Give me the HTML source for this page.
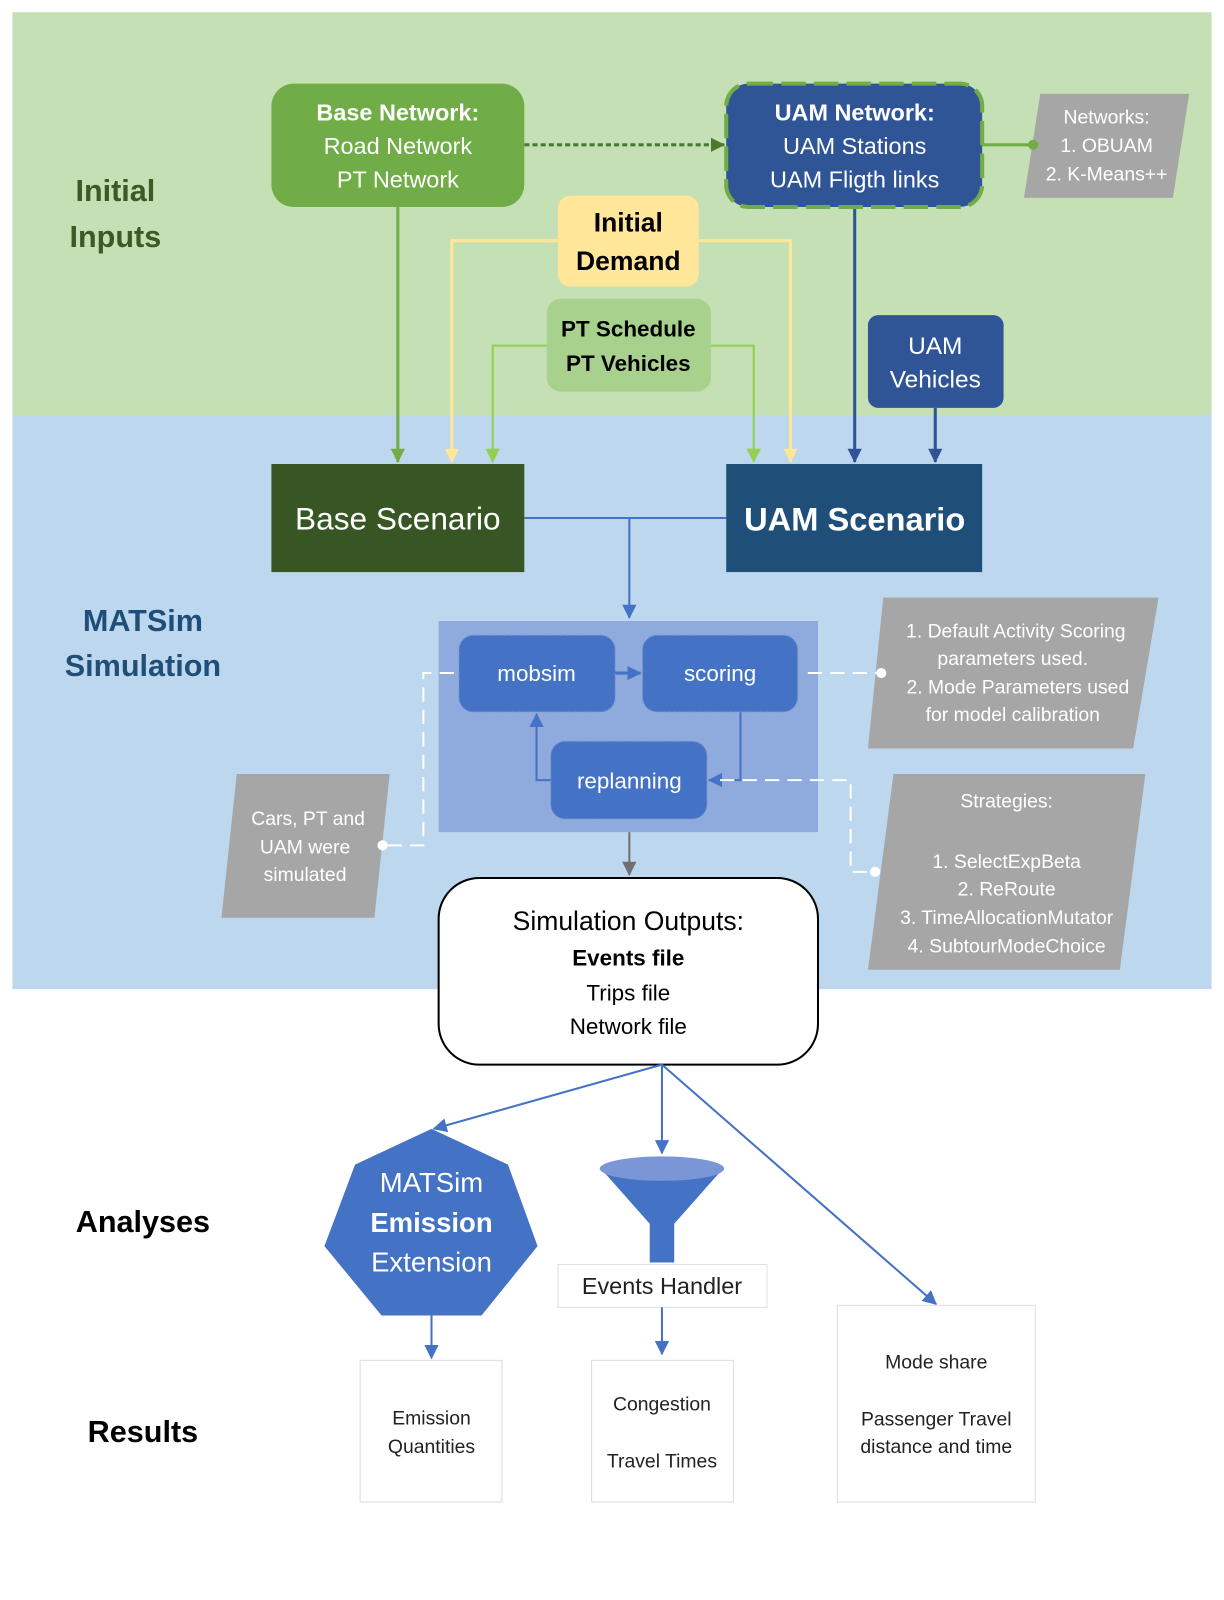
<!DOCTYPE html>
<html><head><meta charset="utf-8"><style>
html,body{margin:0;padding:0;background:#fff;width:1224px;height:1600px;overflow:hidden}
svg{display:block}
text{font-family:"Liberation Sans",sans-serif;text-anchor:middle}
</style></head><body>
<svg width="1224" height="1600" viewBox="0 0 1200 1569" xmlns="http://www.w3.org/2000/svg">
<defs>
<marker id="adg" markerWidth="14" markerHeight="14" refX="13" refY="7" orient="auto" markerUnits="userSpaceOnUse"><path d="M0,0 L14,7 L0,14z" fill="#4a7a2e"/></marker>
<marker id="ag2" markerWidth="14" markerHeight="14" refX="13" refY="7" orient="auto" markerUnits="userSpaceOnUse"><path d="M0,0 L14,7 L0,14z" fill="#70ad47"/></marker>
<marker id="ay" markerWidth="14" markerHeight="14" refX="13" refY="7" orient="auto" markerUnits="userSpaceOnUse"><path d="M0,0 L14,7 L0,14z" fill="#ffe699"/></marker>
<marker id="al" markerWidth="14" markerHeight="14" refX="13" refY="7" orient="auto" markerUnits="userSpaceOnUse"><path d="M0,0 L14,7 L0,14z" fill="#92d050"/></marker>
<marker id="ad" markerWidth="14" markerHeight="14" refX="13" refY="7" orient="auto" markerUnits="userSpaceOnUse"><path d="M0,0 L14,7 L0,14z" fill="#2f5597"/></marker>
<marker id="ab" markerWidth="14" markerHeight="14" refX="13" refY="7" orient="auto" markerUnits="userSpaceOnUse"><path d="M0,0 L14,7 L0,14z" fill="#4472c4"/></marker>
<marker id="agr" markerWidth="14" markerHeight="14" refX="13" refY="7" orient="auto" markerUnits="userSpaceOnUse"><path d="M0,0 L14,7 L0,14z" fill="#707070"/></marker>
</defs>
<rect x="12" y="12" width="1176" height="395" fill="#c5e0b4"/>
<rect x="12" y="407" width="1176" height="563" fill="#bdd7ee"/>

<text x="113" y="197" font-size="30" font-weight="bold" fill="#3a5a26">Initial</text>
<text x="113" y="242" font-size="30" font-weight="bold" fill="#3a5a26">Inputs</text>

<path d="M390,203 V453" stroke="#70ad47" stroke-width="3" fill="none" marker-end="url(#ag2)"/>
<path d="M547,236 H443 V453" stroke="#ffe699" stroke-width="3" fill="none" marker-end="url(#ay)"/>
<path d="M685,236 H775 V453" stroke="#ffe699" stroke-width="3" fill="none" marker-end="url(#ay)"/>
<path d="M536,339 H483 V453" stroke="#92d050" stroke-width="2" fill="none" marker-end="url(#al)"/>
<path d="M697,339 H739 V453" stroke="#92d050" stroke-width="2" fill="none" marker-end="url(#al)"/>
<path d="M838,203 V453" stroke="#2f5597" stroke-width="3" fill="none" marker-end="url(#ad)"/>
<path d="M917,400 V453" stroke="#2f5597" stroke-width="3" fill="none" marker-end="url(#ad)"/>
<path d="M514,142 H710" stroke="#4a7a2e" stroke-width="3" stroke-dasharray="5,3" fill="none" marker-end="url(#adg)"/>

<rect x="266" y="82" width="248" height="121" rx="22" fill="#70ad47"/>
<text x="390" y="118" font-size="23" font-weight="bold" fill="#fff">Base Network:</text>
<text x="390" y="151" font-size="23" fill="#fff">Road Network</text>
<text x="390" y="184" font-size="23" fill="#fff">PT Network</text>

<rect x="712" y="82" width="251" height="121" rx="22" fill="#2f5597" stroke="#70ad47" stroke-width="4" stroke-dasharray="24,8"/>
<text x="838" y="118" font-size="23" font-weight="bold" fill="#fff">UAM Network:</text>
<text x="838" y="151" font-size="23" fill="#fff">UAM Stations</text>
<text x="838" y="184" font-size="23" fill="#fff">UAM Fligth links</text>

<polygon points="1020,92 1166,92 1150,194 1004,194" fill="#a6a6a6"/>
<line x1="963" y1="142" x2="1013" y2="142" stroke="#70ad47" stroke-width="3"/>
<circle cx="1013" cy="142" r="5" fill="#70ad47"/>
<text x="1085" y="121" font-size="19" fill="#fff">Networks:</text>
<text x="1085" y="149" font-size="19" fill="#fff">1. OBUAM</text>
<text x="1085" y="177" font-size="19" fill="#fff">2. K-Means++</text>

<rect x="547" y="192" width="138" height="89" rx="12" fill="#ffe699"/>
<text x="616" y="227" font-size="26" font-weight="bold" fill="#000">Initial</text>
<text x="616" y="265" font-size="26" font-weight="bold" fill="#000">Demand</text>

<rect x="536" y="293" width="161" height="91" rx="14" fill="#a9d18e"/>
<text x="616" y="330" font-size="22" font-weight="bold" fill="#000">PT Schedule</text>
<text x="616" y="364" font-size="22" font-weight="bold" fill="#000">PT Vehicles</text>

<rect x="851" y="309" width="133" height="91" rx="10" fill="#2f5597"/>
<text x="917" y="347" font-size="24" fill="#fff">UAM</text>
<text x="917" y="380" font-size="24" fill="#fff">Vehicles</text>

<path d="M514,508 H712" stroke="#4472c4" stroke-width="2" fill="none"/>
<path d="M617,508 V606" stroke="#4472c4" stroke-width="2" fill="none" marker-end="url(#ab)"/>
<rect x="266" y="455" width="248" height="106" fill="#375623"/>
<text x="390" y="519" font-size="31" fill="#fff">Base Scenario</text>
<rect x="712" y="455" width="251" height="106" fill="#1f4e79"/>
<text x="838" y="520" font-size="32" font-weight="bold" fill="#fff">UAM Scenario</text>

<text x="140" y="619" font-size="30" font-weight="bold" fill="#1f4e79">MATSim</text>
<text x="140" y="663" font-size="30" font-weight="bold" fill="#1f4e79">Simulation</text>

<rect x="430" y="609" width="372" height="207" fill="#8faadc"/>
<path d="M540,765 H526 V700" stroke="#4472c4" stroke-width="2" fill="none" marker-end="url(#ab)"/>
<path d="M726,698 V765 H695" stroke="#4472c4" stroke-width="2" fill="none" marker-end="url(#ab)"/>
<path d="M603,660 H628" stroke="#4472c4" stroke-width="3" fill="none" marker-end="url(#ab)"/>
<rect x="450" y="623" width="153" height="75" rx="14" fill="#4472c4" stroke="#6f8fd0" stroke-dasharray="3,2"/>
<text x="526" y="668" font-size="22" fill="#fff">mobsim</text>
<rect x="630" y="623" width="152" height="75" rx="14" fill="#4472c4" stroke="#6f8fd0" stroke-dasharray="3,2"/>
<text x="706" y="668" font-size="22" fill="#fff">scoring</text>
<rect x="540" y="727" width="153" height="76" rx="14" fill="#4472c4" stroke="#6f8fd0" stroke-dasharray="3,2"/>
<text x="617" y="773" font-size="22" fill="#fff">replanning</text>

<polygon points="866,586 1136,586 1111,734 851,734" fill="#a6a6a6"/>
<text x="996" y="625" font-size="19" fill="#fff">1. Default Activity Scoring</text>
<text x="993" y="652" font-size="19" fill="#fff">parameters used.</text>
<text x="998" y="680" font-size="19" fill="#fff">2. Mode Parameters used</text>
<text x="993" y="707" font-size="19" fill="#fff">for model calibration</text>

<polygon points="876,759 1123,759 1098,951 851,951" fill="#a6a6a6"/>
<text x="987" y="792" font-size="19" fill="#fff">Strategies:</text>
<text x="987" y="851" font-size="19" fill="#fff">1. SelectExpBeta</text>
<text x="987" y="878" font-size="19" fill="#fff">2. ReRoute</text>
<text x="987" y="906" font-size="19" fill="#fff">3. TimeAllocationMutator</text>
<text x="987" y="934" font-size="19" fill="#fff">4. SubtourModeChoice</text>

<polygon points="232,759 382,759 367,900 217,900" fill="#a6a6a6"/>
<text x="302" y="809" font-size="19" fill="#fff">Cars, PT and</text>
<text x="299" y="837" font-size="19" fill="#fff">UAM were</text>
<text x="299" y="864" font-size="19" fill="#fff">simulated</text>

<!-- white dashed connectors (on top) -->
<path d="M792,660 H864" stroke="#fff" stroke-width="2" stroke-dasharray="14,8" fill="none"/>
<circle cx="864" cy="660" r="5" fill="#fff"/>
<path d="M706,765 H834 V855 H858" stroke="#fff" stroke-width="2" stroke-dasharray="14,8" fill="none"/>
<circle cx="858" cy="855" r="5" fill="#fff"/>
<path d="M445,660 H415 V829 H375" stroke="#fff" stroke-width="2" stroke-dasharray="14,8" fill="none"/>
<circle cx="375" cy="829" r="5" fill="#fff"/>

<path d="M617,816 V858" stroke="#707070" stroke-width="2" fill="none" marker-end="url(#agr)"/>

<rect x="430" y="861" width="372" height="183" rx="40" fill="#fff" stroke="#000" stroke-width="2"/>
<text x="616" y="912" font-size="26" fill="#000">Simulation Outputs:</text>
<text x="616" y="947" font-size="22" font-weight="bold" fill="#000">Events file</text>
<text x="616" y="981" font-size="22" fill="#000">Trips file</text>
<text x="616" y="1014" font-size="22" fill="#000">Network file</text>

<path d="M649,1044 L425,1107" stroke="#4472c4" stroke-width="2" fill="none" marker-end="url(#ab)"/>
<path d="M649,1044 V1131" stroke="#4472c4" stroke-width="2" fill="none" marker-end="url(#ab)"/>
<path d="M649,1044 L918,1279" stroke="#4472c4" stroke-width="2" fill="none" marker-end="url(#ab)"/>

<polygon points="423,1107 498,1142 527,1222 472,1290 374,1290 318,1222 348,1142" fill="#4472c4"/>
<text x="423" y="1169" font-size="27" fill="#fff">MATSim</text>
<text x="423" y="1208" font-size="27" font-weight="bold" fill="#fff">Emission</text>
<text x="423" y="1247" font-size="27" fill="#fff">Extension</text>

<polygon points="590,1147 708,1147 661,1200 661,1238 637,1238 637,1200" fill="#4472c4"/>
<ellipse cx="649" cy="1146" rx="61" ry="12" fill="#7a96d6"/>
<rect x="547" y="1240" width="205" height="42" fill="#fff" stroke="#e0e0e0"/>
<text x="649" y="1269" font-size="23" fill="#222">Events Handler</text>

<path d="M423,1290 V1332" stroke="#4472c4" stroke-width="2" fill="none" marker-end="url(#ab)"/>
<path d="M649,1282 V1328" stroke="#4472c4" stroke-width="2" fill="none" marker-end="url(#ab)"/>

<text x="140" y="1208" font-size="30" font-weight="bold" fill="#000">Analyses</text>
<text x="140" y="1414" font-size="30" font-weight="bold" fill="#000">Results</text>

<rect x="353" y="1334" width="139" height="139" fill="#fff" stroke="#ddd"/>
<text x="423" y="1397" font-size="19" fill="#222">Emission</text>
<text x="423" y="1425" font-size="19" fill="#222">Quantities</text>
<rect x="580" y="1334" width="139" height="139" fill="#fff" stroke="#ddd"/>
<text x="649" y="1383" font-size="19" fill="#222">Congestion</text>
<text x="649" y="1439" font-size="19" fill="#222">Travel Times</text>
<rect x="821" y="1280" width="194" height="193" fill="#fff" stroke="#ddd"/>
<text x="918" y="1342" font-size="19" fill="#222">Mode share</text>
<text x="918" y="1398" font-size="19" fill="#222">Passenger Travel</text>
<text x="918" y="1425" font-size="19" fill="#222">distance and time</text>
</svg>
</body></html>
